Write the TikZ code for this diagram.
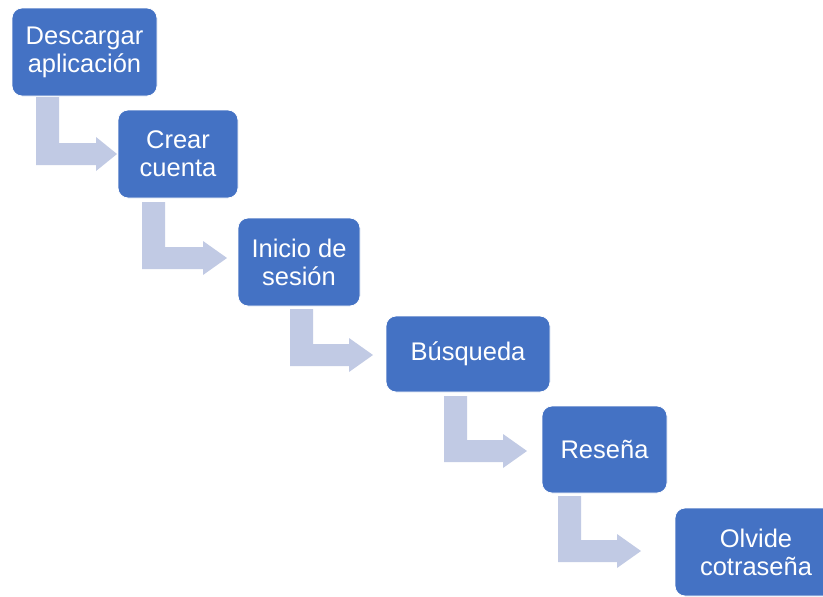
\documentclass[tikz,border=0pt]{standalone}
\usepackage{fontspec}
\setmainfont{Liberation Sans}
\definecolor{boxblue}{RGB}{68,114,196}
\definecolor{arrowblue}{RGB}{193,202,228}
% #1 left x of stem, #2 stem top y, #3 bar top y, #4 head base x, #5 tip x
\newcommand\bentarrow[5]{%
  \fill[arrowblue] (#1,#2) -- ({#1+23},#2) -- ({#1+23},#3) -- (#4,#3) -- (#4,{#3-6})
    -- (#5,{#3+11}) -- (#4,{#3+28}) -- (#4,{#3+22}) -- (#1,{#3+22}) -- cycle;}
\begin{document}
\begin{tikzpicture}[x=1pt,y=-1pt,
  stepbox/.style={fill=boxblue, draw=white, line width=0.8pt, rounded corners=10pt,
    inner sep=0pt, text=white, align=center,
    font=\fontsize{25.5}{28}\selectfont}]
\useasboundingbox (0,0) rectangle (823,597);
\clip (0,0) rectangle (823,597);
\fill[white] (0,0) rectangle (823,597);
\bentarrow{36}{97}{143}{96}{117}
\bentarrow{142}{202}{247}{203}{227}
\bentarrow{290}{309}{344}{349}{373}
\bentarrow{444}{396}{440}{503}{527}
\bentarrow{558}{496}{540}{617}{641}
\node[stepbox, minimum width=145pt, minimum height=88pt] (b1) at (84.5,52) {Descargar\\aplicación};
\node[stepbox, minimum width=120pt, minimum height=88pt] (b2) at (178,154) {Crear\\cuenta};
\node[stepbox, minimum width=122pt, minimum height=88pt] (b3) at (299,262) {Inicio de\\sesión};
\node[stepbox, minimum width=164pt, minimum height=76pt] (b4) at (468,354) {Búsqueda};
\node[stepbox, minimum width=125pt, minimum height=87pt] (b5) at (604.5,449.5) {Reseña};
\node[stepbox, minimum width=162pt, minimum height=88pt] (b6) at (756,552) {Olvide\\cotraseña};
\end{tikzpicture}
\end{document}
